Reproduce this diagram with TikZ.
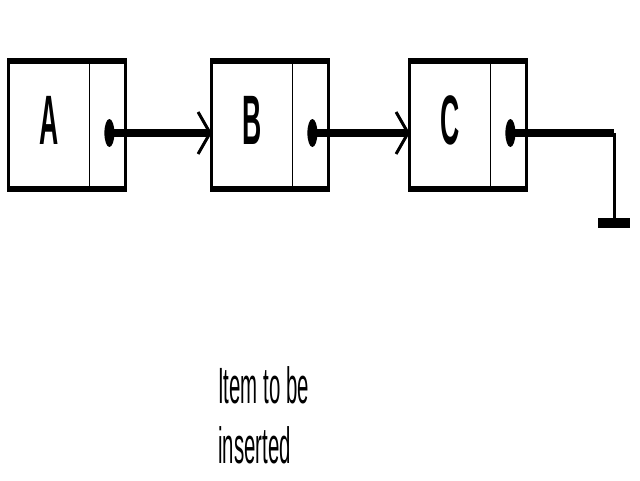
\documentclass[tikz,border=0pt]{standalone}
\usepackage{fontspec}
\newfontfamily\keyfont[FakeStretch=0.38]{Liberation Sans}
\newfontfamily\notefont[FakeStretch=0.4]{Liberation Sans}
\usetikzlibrary{arrows.meta, positioning, shapes.geometric, calc}

\begin{document}
\begin{tikzpicture}[
    x=1pt, y=-1pt,
    node distance=0pt,
    cell/.style={rectangle, minimum width=80pt, minimum height=127pt, inner sep=0pt, text depth=10pt, font=\keyfont\bfseries\fontsize{70}{70}\selectfont},
    ptr/.style={rectangle, minimum width=36pt, minimum height=127pt, inner sep=0pt},
    dot/.style={ellipse, fill=black, minimum width=10pt, minimum height=28pt, inner sep=0pt},
    rim/.style={line width=6pt, shorten <=-1.5pt, shorten >=-1.5pt},
    side/.style={line width=3pt},
    divider/.style={line width=1pt},
    link/.style={line width=8pt, -{Straight Barb[length=12pt, width=42pt, line width=3pt 0]}},
    wire/.style={line width=8pt},
    note/.style={align=left, inner sep=0pt, font=\notefont\fontsize{51}{60}\selectfont}
]
    \useasboundingbox (0,0) rectangle (640,480);

    % Nodes of the list
    \node[cell] (a) at (49, 125) {A};
    \node[ptr, right=of a] (a-ptr) {};
    \node[cell] (b) at (252, 125) {B};
    \node[ptr, right=of b] (b-ptr) {};
    \node[cell] (c) at (450, 125) {C};
    \node[ptr, right=of c] (c-ptr) {};

    % Outlines
    \foreach \n in {a, b, c} {
        \draw[rim] (\n.north west) -- (\n-ptr.north east);
        \draw[rim] (\n.south west) -- (\n-ptr.south east);
        \draw[side] (\n.north west) -- (\n.south west);
        \draw[side] (\n-ptr.north east) -- (\n-ptr.south east);
        \draw[divider] (\n.north east) -- (\n.south east);
        \node[dot] (\n-dot) at ($(\n-ptr.center)+(2,8)$) {};
    }

    % Links
    \draw[link] (a-dot.center) -- (a-dot -| b.west);
    \draw[link] (b-dot.center) -- (b-dot -| c.west);

    % Null pointer
    \coordinate (bend) at (614, 133);
    \coordinate (gnd) at (614, 223);
    \draw[wire] (c-dot.center) -- (bend);
    \draw[line width=3pt] (bend) -- (gnd);
    \draw[line width=10pt] ($(gnd)+(-16,0)$) -- ($(gnd)+(16,0)$);

    % New item
    \node[note, anchor=north west] (item) at (218, 366) {Item to be\\inserted};

\end{tikzpicture}
\end{document}
